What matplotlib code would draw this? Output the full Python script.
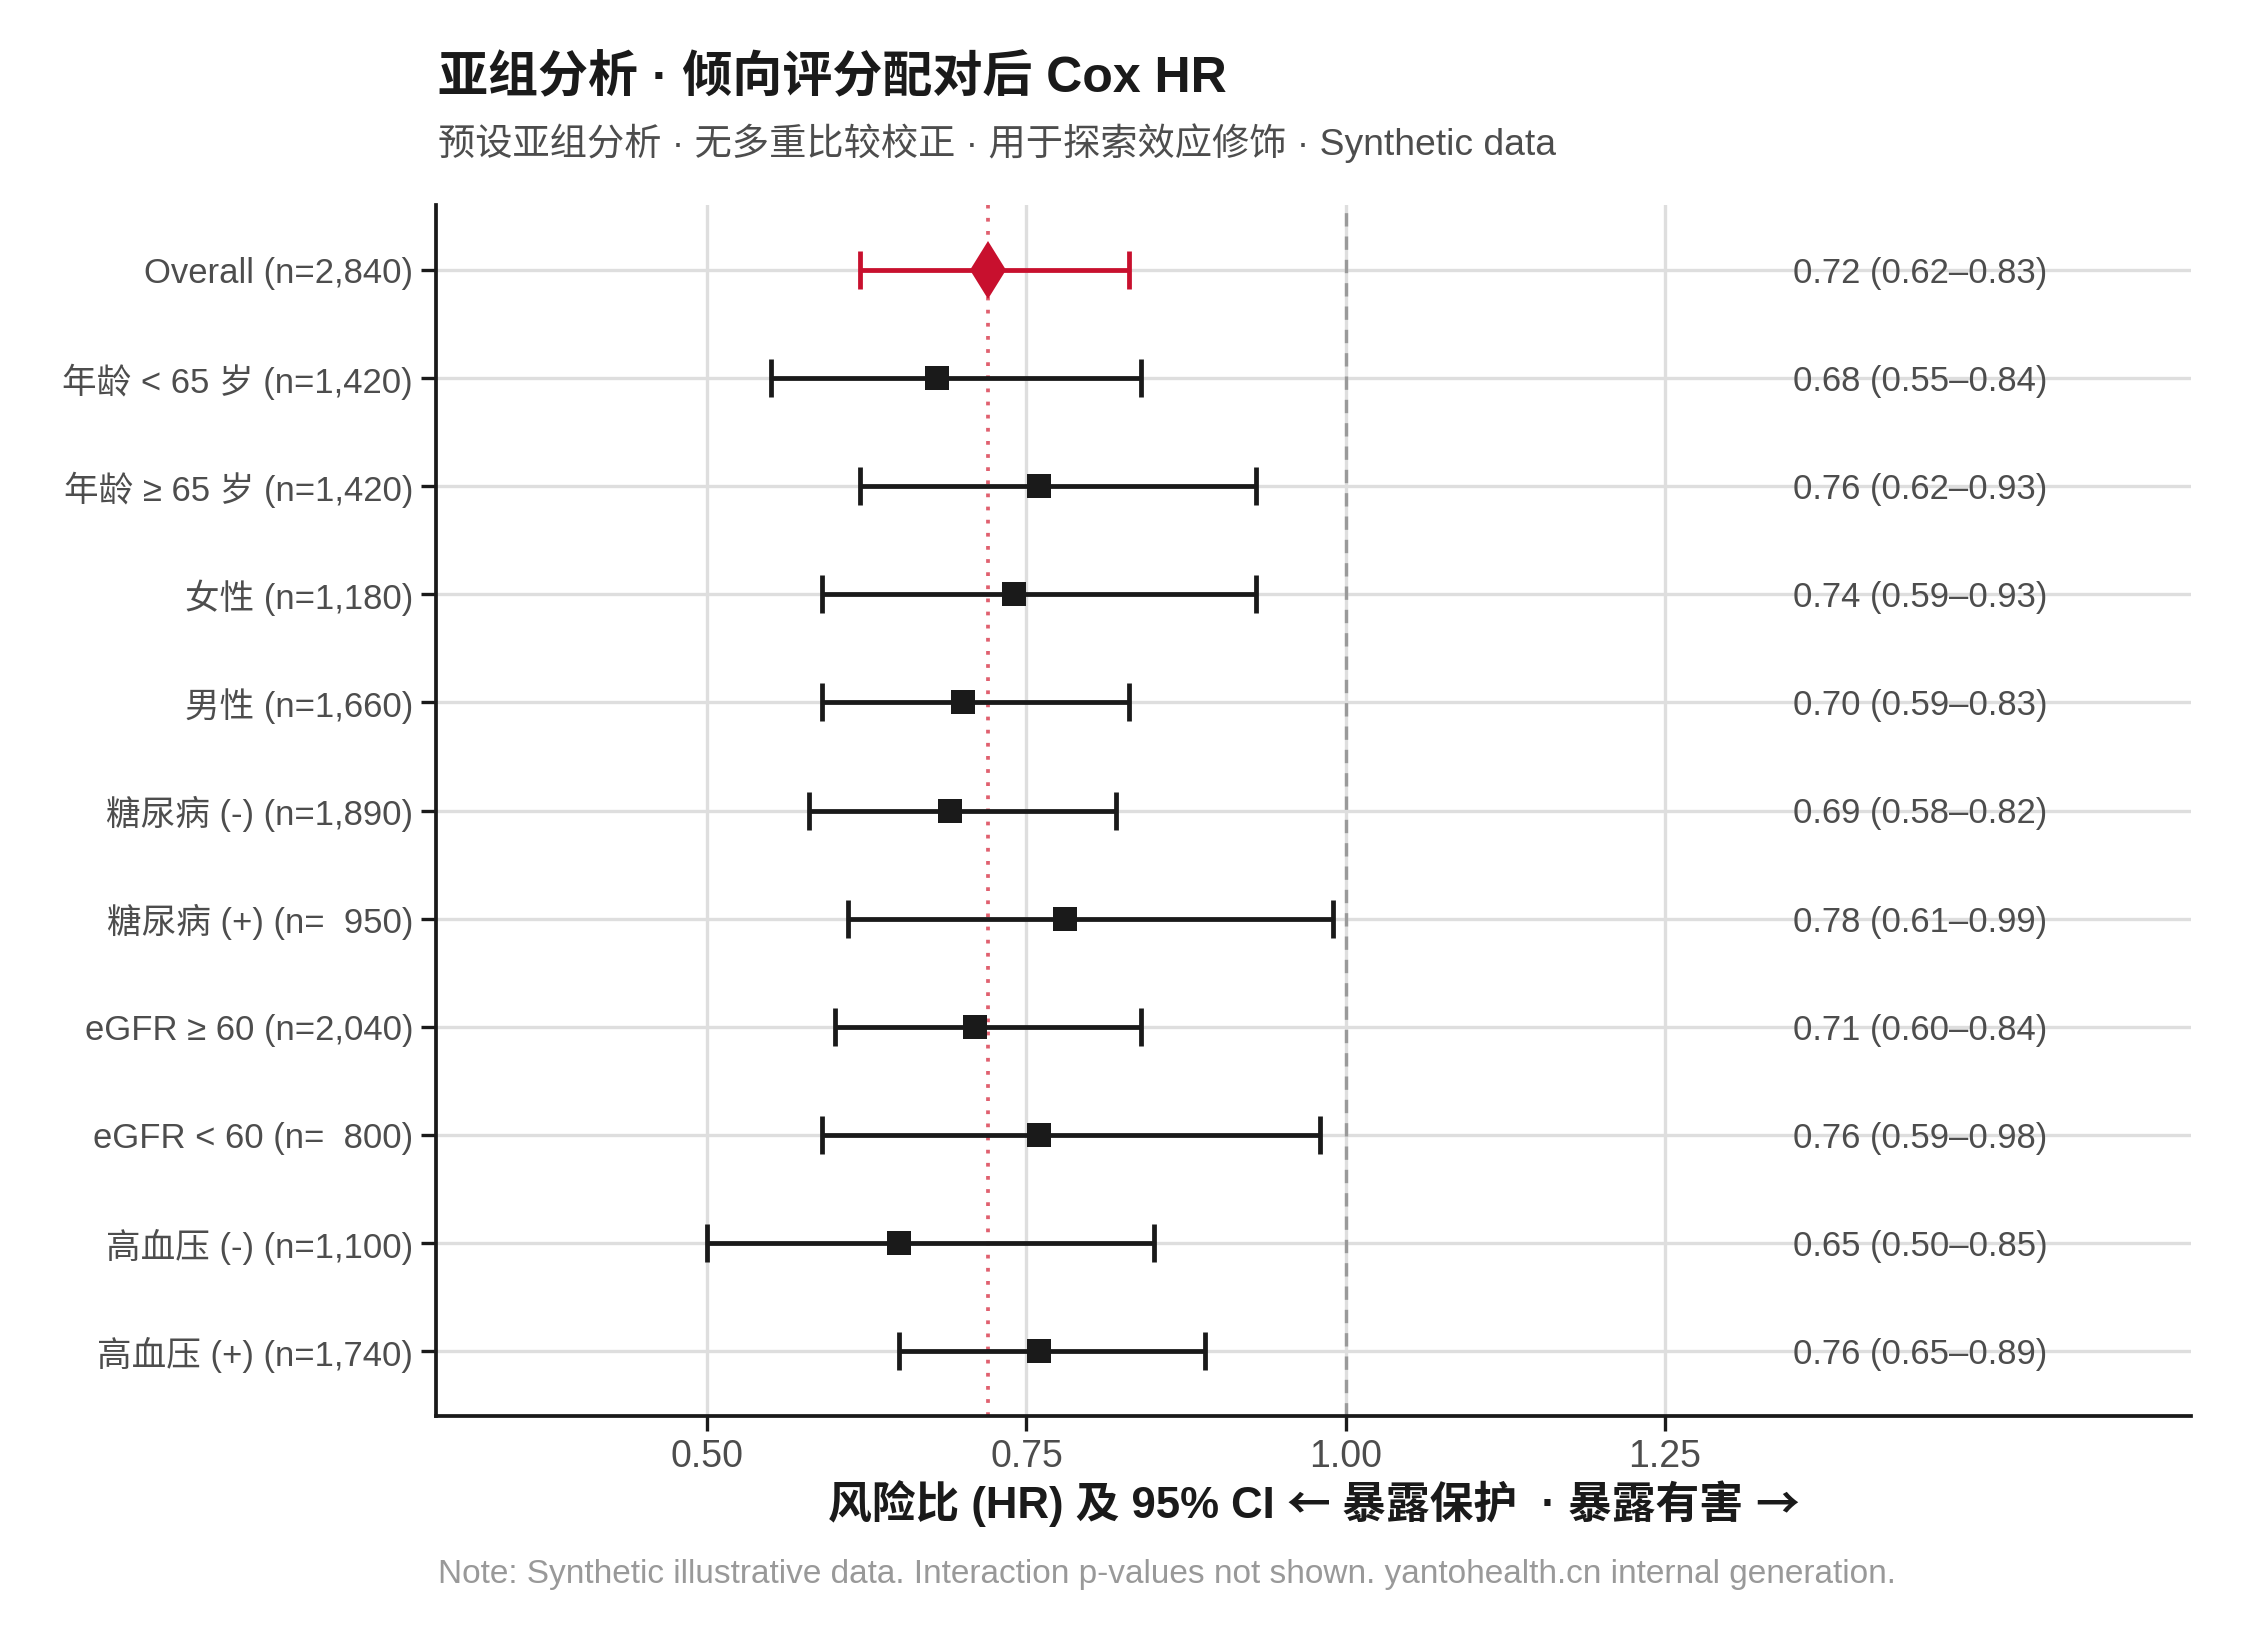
import matplotlib
matplotlib.use("Agg")
import matplotlib.pyplot as plt
from matplotlib.offsetbox import TextArea, HPacker, AnchoredOffsetbox
import numpy as np

plt.rcParams['font.family'] = ['Liberation Sans', 'Noto Sans CJK SC', 'DejaVu Sans']

# subgroup data (top to bottom)
labels = ["Overall (n=2,840)", "年龄 < 65 岁 (n=1,420)", "年龄 ≥ 65 岁 (n=1,420)",
          "女性 (n=1,180)", "男性 (n=1,660)", "糖尿病 (-) (n=1,890)",
          "糖尿病 (+) (n=  950)", "eGFR ≥ 60 (n=2,040)", "eGFR < 60 (n=  800)",
          "高血压 (-) (n=1,100)", "高血压 (+) (n=1,740)"]
hr = [0.72, 0.68, 0.76, 0.74, 0.70, 0.69, 0.78, 0.71, 0.76, 0.65, 0.76]
lo = [0.62, 0.55, 0.62, 0.59, 0.59, 0.58, 0.61, 0.60, 0.59, 0.50, 0.65]
hi = [0.83, 0.84, 0.93, 0.93, 0.83, 0.82, 0.99, 0.84, 0.98, 0.85, 0.89]
xticks = [0.50, 0.75, 1.00, 1.25]

RED = "#C8102E"
DARK = "#1A1A1A"
GREY_TXT = "#4D4D4D"

fig = plt.figure(figsize=(7.5, 5.5), dpi=300)
ax = fig.add_axes([436 / 2250, 1 - 1416 / 1650, (2191 - 436) / 2250, (1416 - 205) / 1650])

n = len(labels)
ypos = np.arange(n)[::-1]  # top row = highest y

# grid
for xt in xticks:
    ax.axvline(xt, color="#DEDEDE", lw=0.8, zorder=0)
for y in ypos:
    ax.axhline(y, color="#DEDEDE", lw=0.8, zorder=0)

# reference lines
ax.axvline(1.0, color="#9A9A9A", lw=0.8, ls=(0, (4, 3)), zorder=1)
ax.axvline(hr[0], color="#E0606F", lw=0.9, ls=(0, (1, 2.5)), zorder=1)

for i in range(n):
    col = RED if i == 0 else DARK
    ax.errorbar(hr[i], ypos[i], xerr=[[hr[i] - lo[i]], [hi[i] - hr[i]]],
                fmt='none', ecolor=col, elinewidth=1.15, capsize=4.5, capthick=1.15, zorder=3)
    if i == 0:
        ax.plot(hr[i], ypos[i], marker='d', color=col, markersize=10, mew=0, zorder=4)
    else:
        ax.plot(hr[i], ypos[i], marker='s', color=col, markersize=5.6, mew=0, zorder=4)
    ax.text(1.35, ypos[i], f"{hr[i]:.2f} ({lo[i]:.2f}–{hi[i]:.2f})",
            va='center_baseline', ha='left', fontsize=8.3, color=GREY_TXT, zorder=5)

ax.set_xlim(0.2876, 1.662)
ax.set_ylim(-0.6, n - 1 + 0.6)
ax.set_xticks(xticks)
ax.set_xticklabels([f"{v:.2f}" for v in xticks])
ax.set_yticks(ypos)
ax.set_yticklabels(labels)

for s in ['top', 'right']:
    ax.spines[s].set_visible(False)
for s in ['left', 'bottom']:
    ax.spines[s].set_linewidth(0.9)
    ax.spines[s].set_color(DARK)
ax.tick_params(axis='both', colors=DARK, width=0.8, length=3.5, labelcolor=GREY_TXT)
ax.tick_params(axis='y', labelsize=8.3, pad=2)
ax.tick_params(axis='x', labelsize=9, pad=2)

# x axis title: arrows taken from the CJK font so they match the reference
lab_kw = dict(fontsize=10.5, fontweight='bold', color=DARK)
cjk = ['Noto Sans CJK SC', 'DejaVu Sans']
parts = [TextArea("风险比 (HR) 及 95% CI ", textprops=lab_kw),
         TextArea("←", textprops=dict(lab_kw, family=cjk)),
         TextArea(" 暴露保护  · 暴露有害 ", textprops=lab_kw),
         TextArea("→", textprops=dict(lab_kw, family=cjk))]
box = HPacker(children=parts, align="baseline", pad=0, sep=0)
anch = AnchoredOffsetbox(loc='center', child=box, frameon=False, pad=0, borderpad=0,
                         bbox_to_anchor=((436 + 2191) / 2 / 2250, 1 - 1504 / 1650),
                         bbox_transform=fig.transFigure)
fig.add_artist(anch)

fig.text(438 / 2250, 1 - 79 / 1650, "亚组分析 · 倾向评分配对后 Cox HR",
         fontsize=12, fontweight='bold', color=DARK, ha='left', va='center')
fig.text(438 / 2250, 1 - 143 / 1650, "预设亚组分析 · 无多重比较校正 · 用于探索效应修饰 · Synthetic data",
         fontsize=8.95, color=GREY_TXT, ha='left', va='center')
fig.text(438 / 2250, 1 - 1575 / 1650,
         "Note: Synthetic illustrative data. Interaction p-values not shown. yantohealth.cn internal generation.",
         fontsize=8, color="#999999", ha='left', va='center')

fig.savefig("out.png", dpi=300)
